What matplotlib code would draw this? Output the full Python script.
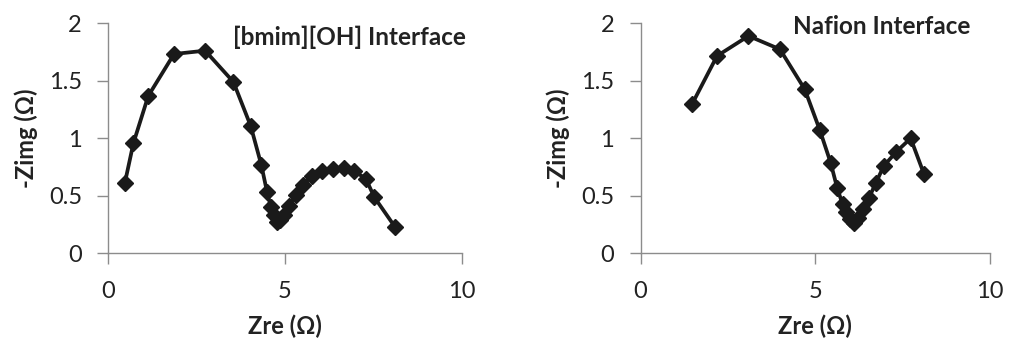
import numpy as np
import matplotlib.pyplot as plt

plt.rcParams['font.family'] = ['Lato', 'DejaVu Sans']

# [bmim][OH] interface
zre_bmim = [0.47, 0.71, 1.13, 1.86, 2.74, 3.54, 4.03, 4.33, 4.49, 4.60, 4.68, 4.77,
            4.87, 4.98, 5.10, 5.32, 5.51, 5.76, 6.04, 6.36, 6.66, 6.96, 7.29, 7.53, 8.12]
zimg_bmim = [0.614, 0.957, 1.368, 1.733, 1.762, 1.49, 1.107, 0.768, 0.536, 0.40, 0.33, 0.275,
             0.29, 0.333, 0.41, 0.507, 0.594, 0.672, 0.718, 0.73, 0.739, 0.718, 0.646, 0.487, 0.226]

# Nafion interface
zre_naf = [1.48, 2.19, 3.09, 3.99, 4.70, 5.13, 5.44, 5.63, 5.78, 5.87, 5.99, 6.10,
           6.23, 6.37, 6.54, 6.73, 6.96, 7.32, 7.73, 8.11]
zimg_naf = [1.30, 1.716, 1.89, 1.774, 1.426, 1.072, 0.788, 0.565, 0.429, 0.355, 0.296, 0.261,
            0.304, 0.383, 0.484, 0.609, 0.759, 0.883, 1.0, 0.69]

xticks = [0, 5, 10]
yticks = [0, 0.5, 1, 1.5, 2]
ytick_labels = ['0', '0.5', '1', '1.5', '2']

W, H = 1010, 341
fig = plt.figure(figsize=(W / 100, H / 100), dpi=100)

panels = [
    (108.3, 461.7, zre_bmim, zimg_bmim, '[bmim][OH] Interface', 349, 37),
    (640.5, 990.0, zre_naf, zimg_naf, 'Nafion Interface', 882, 26),
]

for x0, x1, xs, ys, title, tx, ty in panels:
    ax = fig.add_axes([x0 / W, (H - 253.3) / H, (x1 - x0) / W, 230 / H])
    ax.plot(xs, ys, color='#1a1a1a', lw=2.7, marker='D', ms=8.5, clip_on=False)
    ax.set_xlim(0, 10)
    ax.set_ylim(0, 2)
    ax.set_xticks(xticks)
    ax.set_yticks(yticks)
    ax.set_yticklabels(ytick_labels)
    for s in ['top', 'right']:
        ax.spines[s].set_visible(False)
    for s in ['left', 'bottom']:
        ax.spines[s].set_color('#8c8c8c')
        ax.spines[s].set_linewidth(1.0)
    ax.tick_params(direction='out', length=8, width=1.0, color='#8c8c8c',
                   labelsize=17, labelcolor='#222222')
    ax.tick_params(axis='x', pad=12)
    ax.tick_params(axis='y', pad=11)
    ax.set_xlabel('Zre (Ω)', fontsize=17, fontweight='bold', color='#222222', labelpad=9)
    ax.set_ylabel('-Zimg (Ω)', fontsize=17, fontweight='bold', color='#222222', labelpad=8)
    fig.text(tx / W, 1 - ty / H, title, fontsize=17.5, fontweight='bold',
             color='#222222', ha='center', va='center')

fig.savefig('out.png', dpi=100)
